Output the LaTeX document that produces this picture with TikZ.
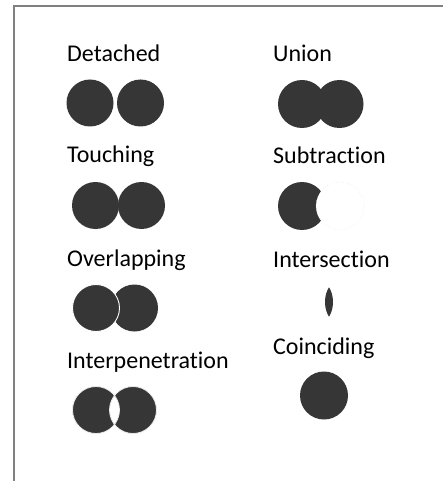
\documentclass[tikz,border=0pt]{standalone}
\usepackage{fontspec}
\setmainfont{Carlito}[Ligatures={NoCommon}]
\usepackage{tikz}
\usetikzlibrary{positioning}
\definecolor{discgray}{HTML}{363636}
\definecolor{framegray}{HTML}{808080}
\tikzset{%
	lbl/.style      = {anchor=base west, inner sep=0pt, font=\fontsize{24}{28}\selectfont}, % Caption
	disc/.style     = {fill=discgray}, % Solid body
	rim/.style      = {draw=gray!15, line width=0.8pt}, % Light edge
	ghost/.style    = {fill=white, draw=gray!30, dotted, line width=0.4pt}, % Removed body
}

\begin{document}
\begin{tikzpicture}[x=1pt,y=1pt]
	\useasboundingbox (0,0) rectangle (443,-481);
	\draw[framegray, line width=1.5pt] (14,-481) -- (14,-6) -- (443,-6);
	
	% left column
	\node [lbl] (detached) at (67,-62) {Detached};
	\node [lbl] (touching) at (67,-163) {Touching};
	\node [lbl] (overlapping) at (67,-266) {Overlapping};
	\node [lbl] (interpen) at (67,-368) {Interpenetration};
	
	\fill [disc] (90,-103) circle (23.5);
	\fill [disc] (140.5,-103) circle (23.5);
	
	\fill [disc] (95.5,-205.5) circle (23.5);
	\fill [disc] (141.5,-205.5) circle (23.5);
	
	\fill [disc] (134.5,-308) circle (23.5);
	\filldraw [disc, draw=white, line width=0.9pt] (96,-308) circle (23.5);
	
	\fill [disc, even odd rule] (96,-410) circle (23.5) (133,-410) circle (23.5);
	\draw [rim] (96,-410) circle (23.5) (133,-410) circle (23.5);
	
	% right column
	\node [lbl] (union) at (273,-62) {Union};
	\node [lbl] (subtraction) at (273,-164) {Subtraction};
	\node [lbl] (intersection) at (273,-267) {Intersection};
	\node [lbl] (coinciding) at (273,-354) {Coinciding};
	
	\fill [disc] (302,-104) circle (24) (339.5,-104) circle (24);
	
	\fill [disc] (302,-206) circle (24);
	\filldraw [ghost] (340,-206) circle (24);
	
	\begin{scope}
		\clip (303,-302) circle (30);
		\fill [disc] (355,-302) circle (30);
	\end{scope}
	
	\fill [disc] (324,-395.5) circle (24);
\end{tikzpicture}
\end{document}
